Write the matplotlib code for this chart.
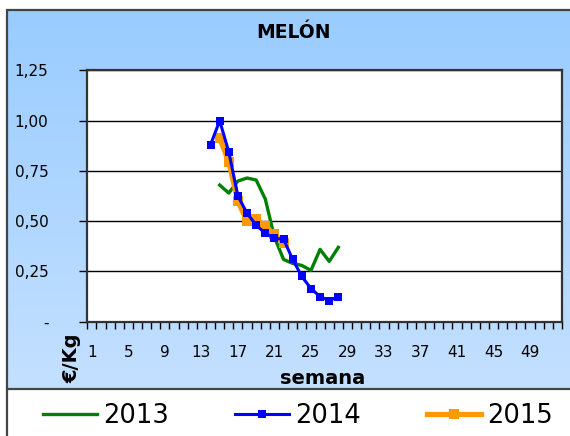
import numpy as np
import matplotlib
matplotlib.use("Agg")
import matplotlib.pyplot as plt
from matplotlib.patches import Rectangle
from matplotlib.lines import Line2D
from matplotlib.ticker import FixedLocator, FuncFormatter

# ---- data ----
weeks_2013 = [15, 16, 17, 18, 19, 20, 21, 22, 23, 24, 25, 26, 27, 28]
price_2013 = [0.68, 0.64, 0.70, 0.715, 0.705, 0.61, 0.42, 0.31, 0.29, 0.28, 0.255, 0.36, 0.30, 0.37]

weeks_2014 = [14, 15, 16, 17, 18, 19, 20, 21, 22, 23, 24, 25, 26, 27, 28]
price_2014 = [0.88, 1.00, 0.845, 0.625, 0.54, 0.48, 0.44, 0.415, 0.41, 0.31, 0.225, 0.165, 0.125, 0.105, 0.125]

weeks_2015 = [15, 16, 17, 18, 19, 20, 21, 22]
price_2015 = [0.915, 0.795, 0.60, 0.50, 0.51, 0.475, 0.435, 0.39]

series_labels = ["2013", "2014", "2015"]
x_tick_labels = [str(w) for w in range(1, 52, 4)]
y_ticks = [0, 0.25, 0.5, 0.75, 1.0, 1.25]

W, H = 570, 436
fig = plt.figure(figsize=(W / 100, H / 100), dpi=100)
fig.patch.set_facecolor("white")

def fx(px):
    return px / W

def fy(py):
    return 1 - py / H

# gradient panel background
bg = fig.add_axes([fx(7), fy(389), fx(575) - fx(7), fy(10) - fy(389)], zorder=0)
grad = np.linspace(0, 1, 256).reshape(-1, 1)
top = np.array([153, 204, 255]) / 255
bot = np.array([196, 224, 255]) / 255
img = top[None, None, :] * (1 - grad[:, :, None]) + bot[None, None, :] * grad[:, :, None]
bg.imshow(img, aspect="auto", extent=[0, 1, 0, 1])
bg.set_xlim(0, 1)
bg.set_ylim(0, 1)
bg.axis("off")

# frame lines
fig.add_artist(Rectangle((fx(7), fy(389)), fx(580) - fx(7), fy(10) - fy(389),
                         transform=fig.transFigure, fill=False, edgecolor="#444444", lw=1.6, zorder=1))
fig.add_artist(Line2D([fx(7), fx(7)], [fy(389), 0], transform=fig.transFigure, color="#444444", lw=1.6))

ax = fig.add_axes([fx(87.3), fy(321.7), fx(562) - fx(87.3), fy(70.5) - fy(321.7)], zorder=2)
ax.set_facecolor("white")

ax.plot(weeks_2013, price_2013, color="#008000", lw=2.4, label=series_labels[0], zorder=3)
ax.plot(weeks_2015, price_2015, color="#FF9900", lw=3.8, marker="s", markersize=6.5,
        markeredgewidth=0, label=series_labels[2], zorder=4)
ax.plot(weeks_2014, price_2014, color="#0000FF", lw=2.2, marker="s", markersize=5.5,
        markeredgewidth=0, label=series_labels[1], zorder=5)

ax.set_xlim(0.5, 52.5)
ax.set_ylim(0, 1.25)

ax.yaxis.set_major_locator(FixedLocator(y_ticks))
ax.yaxis.set_major_formatter(FuncFormatter(lambda v, p: "-" if abs(v) < 1e-9 else f"{v:.2f}".replace(".", ",")))
ax.tick_params(axis="y", direction="out", length=6, width=1, labelsize=11, pad=22, colors="black")
for lab in ax.get_yticklabels():
    lab.set_horizontalalignment("right")

ax.xaxis.set_major_locator(FixedLocator(list(range(1, 52, 4))))
ax.set_xticklabels(x_tick_labels)
ax.xaxis.set_minor_locator(FixedLocator(np.arange(0.5, 53, 1.0)))
ax.tick_params(axis="x", which="major", length=0, labelsize=11, pad=17)
ax.tick_params(axis="x", which="minor", direction="out", length=5, width=1, color="black")

ax.grid(axis="y", color="black", lw=1.0)
ax.set_axisbelow(True)
for s in ax.spines.values():
    s.set_color("#333333")
    s.set_linewidth(1.6)

fig.text(fx(294), fy(33), "MELÓN", ha="center", va="center", fontsize=13.5, fontweight="bold")
fig.text(fx(323), fy(379), "semana", ha="center", va="center", fontsize=14, fontweight="bold")
fig.text(fx(72), fy(358), "€/Kg", ha="center", va="center", fontsize=14, fontweight="bold", rotation=90)

handles, labels = ax.get_legend_handles_labels()
handles = [handles[0], handles[2], handles[1]]
labels = [labels[0], labels[2], labels[1]]
fig.legend(handles, labels, loc="center", bbox_to_anchor=(fx(298), fy(416)), ncol=3, frameon=False,
           fontsize=18.5, handlelength=2.1, handletextpad=0.25, columnspacing=2.55, borderaxespad=0,
           borderpad=0)

fig.savefig("out.png", dpi=100, facecolor="white")
